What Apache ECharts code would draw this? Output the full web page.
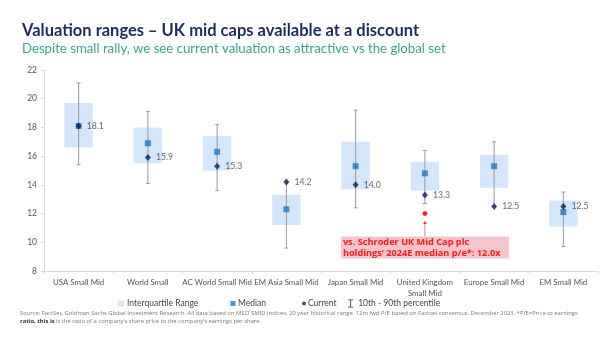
<!DOCTYPE html>
<html><head><meta charset="utf-8">
<script src="https://cdn.jsdelivr.net/npm/echarts@6/dist/echarts.min.js"></script>
<style>html,body{margin:0;padding:0;background:#fff}#c{width:600px;height:339px}</style>
</head><body><div id="c"></div>
<script>
const categories = ['USA Small Mid','World Small','AC World Small Mid','EM Asia Small Mid','Japan Small Mid','United Kingdom\nSmall Mid','Europe Small Mid','EM Small Mid'];
const p10 = [15.4, 14.1, 13.6, 9.6, 12.4, 12.7, 12.5, 9.7];
const p90 = [21.1, 19.1, 18.2, 14.2, 19.2, 16.4, 17.0, 13.5];
const q1 = [16.6, 15.5, 15.0, 11.2, 13.7, 13.6, 13.8, 11.1];
const q3 = [19.7, 18.0, 17.4, 13.3, 17.0, 15.6, 16.1, 12.9];
const median = [18.1, 16.9, 16.3, 12.3, 15.3, 14.8, 15.3, 12.1];
const current = [18.1, 15.9, 15.3, 14.2, 14.0, 13.3, 12.5, 12.5];
const schroderCategory = 'United Kingdom\nSmall Mid';
const schroderPE = 12.0;
const yTicks = {min: 8, max: 22, interval: 2};

const chart = echarts.init(document.getElementById('c'));
const FONT = 'Open Sans';
const SMALL = 'Lato';
const navy = '#0b1f5a';
const boxColor = '#d4e6fc';
const medColor = '#1a78c2';
const whiskColor = '#9a9a9a';

const iqrData = categories.map((c, i) => [i, q1[i], q3[i]]);
const whiskData = categories.map((c, i) => [i, p10[i], p90[i]]);
const medData = categories.map((c, i) => [i, median[i]]);
const curData = categories.map((c, i) => [i, current[i]]);
const schIdx = categories.indexOf(schroderCategory);
const legText = {fontFamily: SMALL, fontSize: 8.5, color: '#444'};

const option = {
  animation: false,
  textStyle: {fontFamily: FONT},
  title: [
    {text: 'Valuation ranges \u2013 UK mid caps available at a discount', left: 17, top: 17,
      textStyle: {fontFamily: 'Lato', fontSize: 16.5, fontWeight: 'bold', color: '#1e2b5e'}},
    {text: 'Despite small rally, we see current valuation as attractive vs the global set', left: 17, top: 37,
      textStyle: {fontFamily: 'Lato', fontSize: 13.2, fontWeight: 'normal', color: '#3ba58c'}}
  ],
  grid: {left: 44, right: 2, top: 70, bottom: 68},
  xAxis: {
    type: 'category', data: categories,
    axisLine: {lineStyle: {color: '#d9d9d9'}},
    axisTick: {show: true, length: 3, lineStyle: {color: '#d9d9d9'}},
    axisLabel: {fontFamily: SMALL, fontSize: 7.9, color: '#555', margin: 6, interval: 0, lineHeight: 11}
  },
  yAxis: {
    type: 'value', min: yTicks.min, max: yTicks.max, interval: yTicks.interval,
    splitLine: {show: false},
    axisLine: {show: true, lineStyle: {color: '#d9d9d9'}},
    axisTick: {show: true, length: 3, lineStyle: {color: '#d9d9d9'}},
    axisLabel: {fontFamily: SMALL, fontSize: 8.5, color: '#555', margin: 7}
  },
  legend: [
    {left: 113, top: 294, itemWidth: 6, itemHeight: 6, textStyle: Object.assign({padding: [0,0,0,-2]}, legText),
      data: [{name: 'Interquartile Range', icon: 'rect'}]},
    {left: 225.5, top: 294, itemWidth: 5, itemHeight: 5, textStyle: Object.assign({padding: [0,0,0,-2.5]}, legText),
      data: [{name: 'Median', icon: 'rect'}]},
    {left: 297, top: 294, itemWidth: 4, itemHeight: 4, textStyle: Object.assign({padding: [0,0,0,-3]}, legText),
      data: [{name: 'Current', icon: 'circle'}]},
    {left: 343, top: 294, itemWidth: 9, itemHeight: 8, textStyle: Object.assign({padding: [0,0,0,-2]}, legText),
      data: [{name: '10th - 90th percentile', icon: 'path://M0,0H10V1.6H5.8V13.4H10V15H0V13.4H4.2V1.6H0Z', itemStyle: {color: '#1c3a8a'}}]}
  ],
  graphic: [
    {type: 'text', left: 20, top: 309, style: {
      text: 'Source: FactSet, Goldman Sachs Global Investment Research. All data based on MSCI SMID indices. 20 year historical range. 12m fwd P/E based on Factset consensus. December 2023. *P/E=Price to earnings\n{b|ratio, this is} is the ratio of a company\u2019s share price to the company\u2019s earnings per share.',
      fontSize: 5.85, fill: '#777', fontFamily: FONT, lineHeight: 8,
      rich: {b: {fontSize: 5.85, fill: '#333', fontFamily: FONT, fontWeight: 'bold'}}
    }}
  ],
  series: [
    {
      name: 'Interquartile Range', type: 'custom', z: 1,
      itemStyle: {color: boxColor},
      data: iqrData,
      renderItem: function (params, api) {
        const x = api.value(0);
        const top = api.coord([x, api.value(2)]);
        const bot = api.coord([x, api.value(1)]);
        const w = api.size([1, 0])[0] * 0.41;
        return {type: 'rect', shape: {x: top[0] - w / 2, y: top[1], width: w, height: bot[1] - top[1]},
          style: {fill: boxColor}};
      }
    },
    {
      name: '10th - 90th percentile', type: 'custom', z: 2,
      itemStyle: {color: whiskColor},
      data: whiskData,
      renderItem: function (params, api) {
        const x = api.value(0);
        const lo = api.coord([x, api.value(1)]);
        const hi = api.coord([x, api.value(2)]);
        const c = 2;
        const st = {stroke: whiskColor, lineWidth: 1};
        return {type: 'group', children: [
          {type: 'line', shape: {x1: lo[0], y1: lo[1], x2: hi[0], y2: hi[1]}, style: st},
          {type: 'line', shape: {x1: lo[0] - c, y1: lo[1], x2: lo[0] + c, y2: lo[1]}, style: st},
          {type: 'line', shape: {x1: hi[0] - c, y1: hi[1], x2: hi[0] + c, y2: hi[1]}, style: st}
        ]};
      }
    },
    {
      name: 'Median', type: 'scatter', z: 3, symbol: 'rect', symbolSize: 6,
      itemStyle: {color: medColor}, data: medData
    },
    {
      name: 'Current', type: 'scatter', z: 4, symbol: 'diamond', symbolSize: [6, 7],
      itemStyle: {color: navy}, data: curData,
      label: {show: true, position: 'right', distance: 5, fontFamily: SMALL, fontSize: 8.7, color: '#444',
        formatter: p => p.value[1].toFixed(1)}
    },
    {
      name: 'Schroder', type: 'custom', z: 5, silent: true,
      data: [[schIdx, schroderPE]],
      renderItem: function (params, api) {
        const p = api.coord([api.value(0), api.value(1)]);
        const bx = p[0] - 84, by = p[1] + 23;
        return {type: 'group', children: [
          {type: 'circle', shape: {cx: p[0], cy: p[1], r: 2.4}, style: {fill: '#ff1f1f'}},
          {type: 'line', shape: {x1: p[0], y1: p[1] + 9, x2: p[0], y2: by}, style: {stroke: '#d98890', lineWidth: 1}},
          {type: 'polygon', shape: {points: [[p[0], p[1] + 7.5], [p[0] - 1.8, p[1] + 10.5], [p[0] + 1.8, p[1] + 10.5]]}, style: {fill: '#e83040'}},
          {type: 'rect', shape: {x: bx, y: by, width: 168, height: 22}, style: {fill: '#f6c4cb'}},
          {type: 'text', x: bx + 2, y: by + 1, style: {
            text: 'vs. Schroder UK Mid Cap plc\nholdings\u2019 2024E median p/e*: 12.0x',
            fill: '#ff1a1a', fontSize: 9.2, fontWeight: 'bold', fontFamily: FONT, lineHeight: 10.5}}
        ]};
      }
    }
  ]
};
chart.setOption(option);
</script>
</body></html>
